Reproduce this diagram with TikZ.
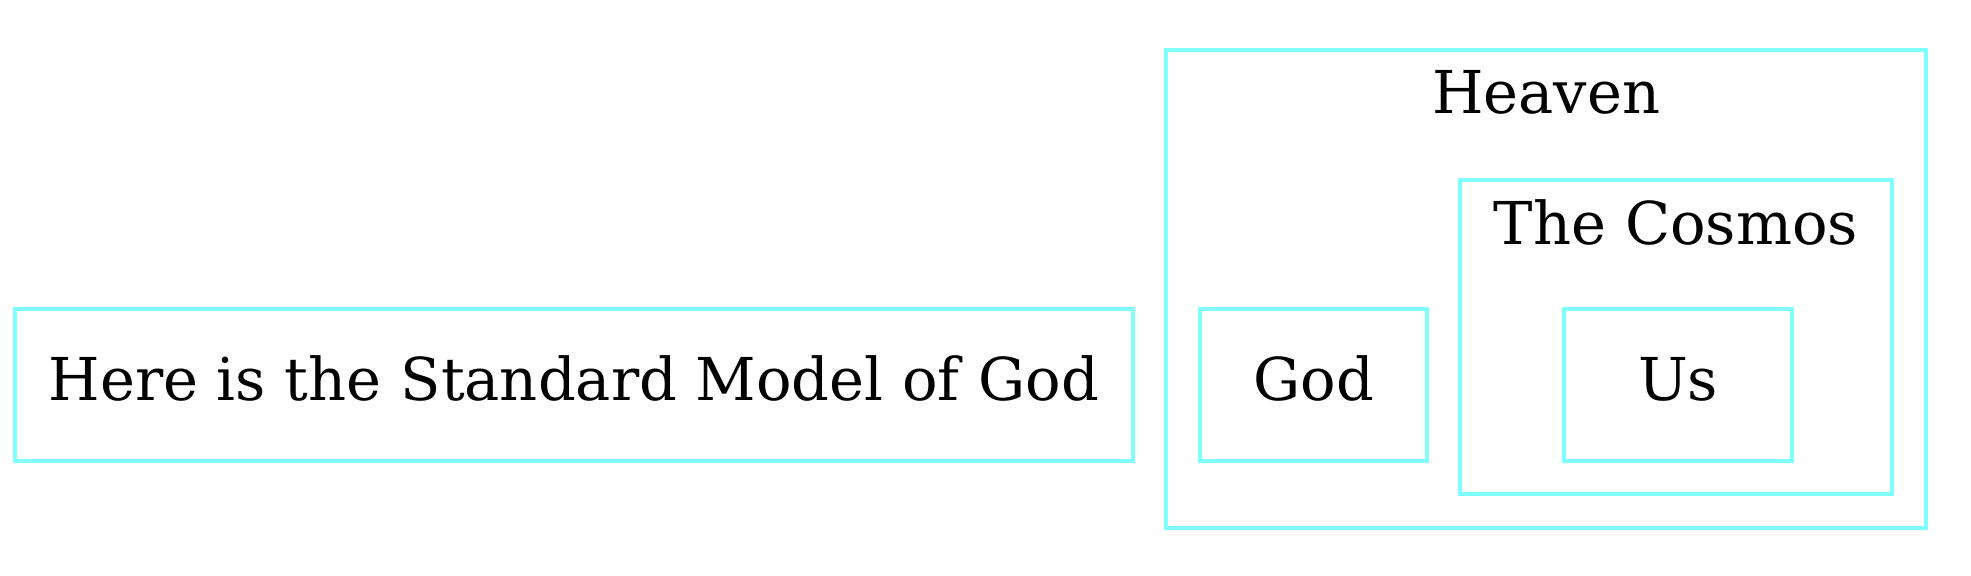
\documentclass[tikz,border=0pt]{standalone}
\usepackage{fontspec}
\setmainfont{DejaVu Serif}
\definecolor{lightcyan}{RGB}{128,255,255}
\begin{document}
\begin{tikzpicture}[x=1pt,y=1pt,
  box/.style={draw=lightcyan,line width=1pt,minimum height=36pt,
    text height=9pt,text depth=1.9pt,inner sep=0pt},
  cluster/.style={draw=lightcyan,line width=1pt,inner sep=0pt}]
\useasboundingbox (0,0) rectangle (467.1,136.3);
\fontsize{14}{17}\selectfont

\node[box,minimum width=264.9pt] (model) at (136.0,45.0) {Here is the Standard Model of God};

\node[cluster,minimum width=180.1pt,minimum height=113.3pt] (heaven) at (366.4,67.8) {};
\node[anchor=base,inner sep=0pt] (heavenlabel) at (366.4,109.5) {Heaven};

\node[box,minimum width=53.8pt] (god) at (311.3,45.0) {God};

\node[cluster,minimum width=102.4pt,minimum height=74.4pt] (cosmos) at (397.2,56.4) {};
\node[anchor=base,inner sep=0pt] (cosmoslabel) at (397.2,78.4) {The Cosmos};

\node[box,minimum width=54pt] (us) at (397.7,45.0) {Us};
\end{tikzpicture}
\end{document}
